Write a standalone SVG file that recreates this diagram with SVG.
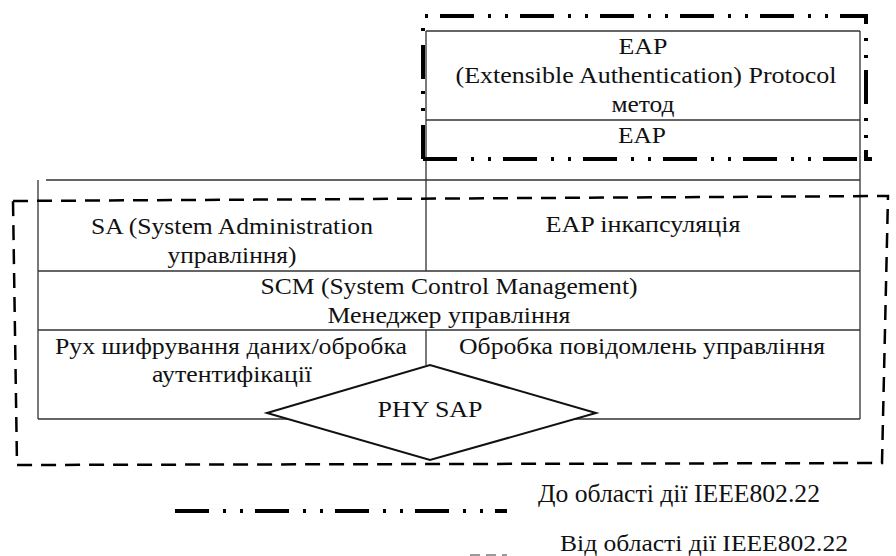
<svg xmlns="http://www.w3.org/2000/svg" width="896" height="556" viewBox="0 0 896 556">
<style>
.t{font-family:'Liberation Serif','Times New Roman',serif;font-size:24px;fill:#111;text-anchor:middle}
.ln{stroke:#333;stroke-width:1.3;fill:none}
.dd{stroke:#000;stroke-width:4;fill:none;stroke-dasharray:34 14 3 14 3 12}
.ds{stroke:#000;stroke-width:2.5;fill:none;stroke-dasharray:15 9}
</style>
<rect width="896" height="556" fill="#fff"/>
<g id="eap-method">
<path class="ln" d="M426,31H860M426,120H860"/>
<text class="t" x="643" y="54" textLength="49" lengthAdjust="spacingAndGlyphs">EAP</text>
<text class="t" x="646" y="83" textLength="381" lengthAdjust="spacingAndGlyphs">(Extensible Authentication) Protocol</text>
<text class="t" x="643" y="112" textLength="63" lengthAdjust="spacingAndGlyphs">метод</text>
</g>
<g id="eap">
<text class="t" x="642" y="143" textLength="48" lengthAdjust="spacingAndGlyphs">EAP</text>
</g>
<g id="table">
<path class="ln" d="M426,31V271M860,31V419M46,180H860M38,180V419M38,271H860M38,330H860M38,419H860M426,330V365"/>
</g>
<g id="sa">
<text class="t" x="232" y="234" textLength="282" lengthAdjust="spacingAndGlyphs">SA (System Administration</text>
<text class="t" x="232" y="263" textLength="129" lengthAdjust="spacingAndGlyphs">управління)</text>
</g>
<g id="eap-encap">
<text class="t" x="643" y="232" textLength="195" lengthAdjust="spacingAndGlyphs">EAP інкапсуляція</text>
</g>
<g id="scm">
<text class="t" x="449" y="294" textLength="377" lengthAdjust="spacingAndGlyphs">SCM (System Control Management)</text>
<text class="t" x="449" y="323" textLength="243" lengthAdjust="spacingAndGlyphs">Менеджер управління</text>
</g>
<g id="crypto">
<text class="t" x="231" y="354" textLength="352" lengthAdjust="spacingAndGlyphs">Рух шифрування даних/обробка</text>
<text class="t" x="232" y="382" textLength="160" lengthAdjust="spacingAndGlyphs">аутентифікації</text>
</g>
<g id="msg">
<text class="t" x="642" y="354" textLength="366" lengthAdjust="spacingAndGlyphs">Обробка повідомлень управління</text>
</g>
<g id="phy-sap">
<polygon points="267,413 430,365 596,413 430,460" fill="#fff" stroke="#111" stroke-width="2"/>
<text class="t" x="430" y="417" textLength="105" lengthAdjust="spacingAndGlyphs">PHY SAP</text>
</g>
<g id="connectors">
<path class="dd" d="M423,159V16H866V159H872M423,159H872"/>
<path class="ds" d="M13,201L888,196L882,463L17,465Z"/>
<path class="dd" d="M175,511H507"/>
<path d="M470,555H507" stroke="#999" stroke-width="2" stroke-dasharray="10 6"/>
</g>
<g id="legend">
<text class="t" x="538" y="502" style="text-anchor:start;font-size:25px" textLength="282" lengthAdjust="spacingAndGlyphs">До області дії IEEE802.22</text>
<text class="t" x="560" y="551" style="text-anchor:start;font-size:24px" textLength="288" lengthAdjust="spacingAndGlyphs">Від області дії IEEE802.22</text>
</g>
</svg>
